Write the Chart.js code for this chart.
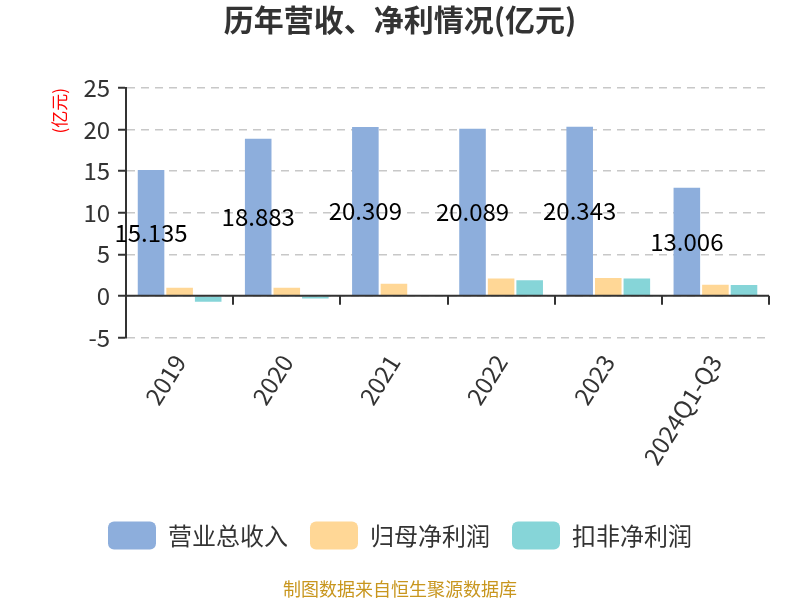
<!DOCTYPE html>
<html>
<head>
<meta charset="utf-8">
<script src="https://cdn.jsdelivr.net/npm/chart.js@4/dist/chart.umd.min.js"></script>
<style>
html,body{margin:0;padding:0;background:#fff;}
#wrap{width:800px;height:600px;position:relative;}
</style>
</head>
<body>
<div id="wrap"><canvas id="c" width="800" height="600"></canvas></div>
<script>
const categories = ["2019", "2020", "2021", "2022", "2023", "2024Q1-Q3"];
const revenue = [15.135, 18.883, 20.309, 20.089, 20.343, 13.006];
const netProfit = [0.98, 0.98, 1.46, 2.07, 2.15, 1.34];
const deductedProfit = [-0.7, -0.33, 0.03, 1.87, 2.07, 1.3];
const seriesNames = ["营业总收入", "归母净利润", "扣非净利润"];
const yTicks = [-5, 0, 5, 10, 15, 20, 25];

const FONT = '"Noto Sans CJK SC", "Noto Sans", sans-serif';

const extras = {
  id: 'extras',
  afterDatasetsDraw(chart) {
    const ctx = chart.ctx;
    const x = chart.scales.x, y = chart.scales.y;
    const y0 = y.getPixelForValue(0);
    ctx.save();
    ctx.strokeStyle = '#333';
    ctx.lineWidth = 2;
    ctx.beginPath();
    ctx.moveTo(chart.chartArea.left, y0);
    ctx.lineTo(chart.chartArea.right, y0);
    ctx.stroke();
    const n = categories.length;
    const w = (chart.chartArea.right - chart.chartArea.left) / n;
    for (let i = 1; i <= n; i++) {
      const px = Math.round(x.getPixelForTick(i - 1) + w / 2);
      ctx.beginPath();
      ctx.moveTo(px, y0);
      ctx.lineTo(px, y0 + 9);
      ctx.stroke();
    }
    const meta = chart.getDatasetMeta(0);
    ctx.fillStyle = '#000';
    ctx.font = '24px ' + FONT;
    ctx.textAlign = 'center';
    ctx.textBaseline = 'middle';
    meta.data.forEach((bar, i) => {
      const cy = (bar.y + bar.base) / 2;
      ctx.fillText(revenue[i].toFixed(3), bar.x, cy);
    });
    ctx.restore();
  }
};

new Chart(document.getElementById('c'), {
  type: 'bar',
  data: {
    labels: categories,
    datasets: [
      { label: seriesNames[0], data: revenue, backgroundColor: '#8daedc' },
      { label: seriesNames[1], data: netProfit, backgroundColor: '#ffd796' },
      { label: seriesNames[2], data: deductedProfit, backgroundColor: '#86d5d8' }
    ]
  },
  options: {
    responsive: false,
    animation: false,
    devicePixelRatio: 1,
    layout: { padding: { left: 31, right: 31, top: 0, bottom: 0 } },
    datasets: { bar: { categoryPercentage: 0.8, barPercentage: 0.93 } },
    scales: {
      x: {
        grid: { display: false },
        border: { display: false },
        ticks: { color: '#333', font: { size: 24, family: FONT }, maxRotation: 58, minRotation: 58, padding: 4 },
        afterFit(scale) { scale.height = 162; }
      },
      y: {
        min: -5, max: 25,
        afterBuildTicks(scale) { scale.ticks = yTicks.map(v => ({ value: v })); },
        grid: { color: '#c8c8c8', lineWidth: 1.5, tickColor: '#333', tickLength: 8, tickWidth: 2 },
        border: { color: '#333', width: 2, dash: [8, 6] },
        ticks: { color: '#333', font: { size: 24, family: FONT }, padding: 8 },
        title: { display: true, text: '(亿元)', color: '#ff0000', align: 'end', font: { size: 17, family: FONT }, padding: { top: 18, bottom: 6 } }
      }
    },
    plugins: {
      title: {
        display: true, text: '历年营收、净利情况(亿元)', color: '#333',
        font: { size: 30, weight: 'bold', family: FONT }, padding: { top: 2, bottom: 50 }
      },
      subtitle: {
        display: true, position: 'bottom', text: '制图数据来自恒生聚源数据库', color: '#c8961e',
        font: { size: 18, family: FONT }, padding: { top: 19, bottom: 0 }
      },
      legend: {
        position: 'bottom',
        labels: { boxWidth: 48, boxHeight: 28, useBorderRadius: true, borderRadius: 6, color: '#333', font: { size: 24, family: FONT }, padding: 22 }
      },
      tooltip: { enabled: false }
    }
  },
  plugins: [extras]
});
</script>
</body>
</html>
